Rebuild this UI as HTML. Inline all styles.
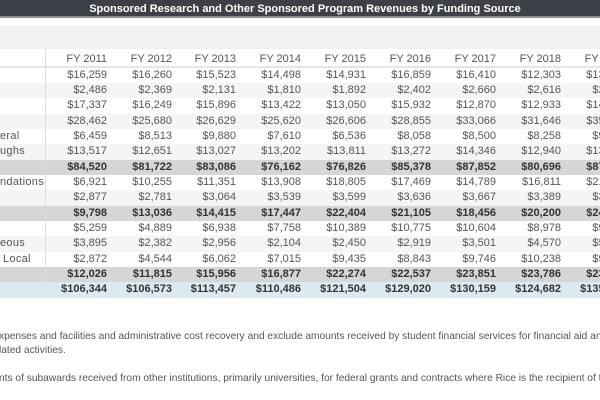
<!DOCTYPE html>
<html><head><style>
html,body{margin:0;width:600px;height:400px;overflow:hidden}
body{background:#fff;font-family:"Liberation Sans",sans-serif;position:relative}
.t{position:absolute;left:0;top:0;width:600px;height:18px;background:#3d4047;border-bottom:2px solid #8a8d92;color:#fff;font-weight:bold;font-size:11px;text-align:center;line-height:18px;padding-left:10px;box-sizing:border-box}
.band{position:absolute;left:0;top:26px;width:600px;height:23px;background:#f0f0f0}
#tb{position:absolute;left:0;top:0;width:600px;height:400px;overflow:hidden}
.r{position:absolute;left:0;width:600px;height:15.4px;overflow:hidden}
.c{position:absolute;font-size:11px;color:#555;line-height:15.4px;text-align:right;width:70px;white-space:nowrap}
.b .c{font-weight:bold;color:#333}
.l{position:absolute;font-size:11px;color:#555;line-height:15.4px;white-space:nowrap}
.vl{position:absolute;left:45px;top:49px;width:1px;height:248px;background:#ddd}
.nw{position:absolute;left:0;top:0;width:600px;height:400px;overflow:hidden}
.n{position:absolute;left:0;font-size:10.2px;color:#555;white-space:nowrap}
</style></head><body>
<div class="t">Sponsored Research and Other Sponsored Program Revenues by Funding Source</div>
<div class="band"></div>
<div id="tb"></div>
<div class="vl"></div>
<div class="nw">
<div class="n" style="top:331px;left:-1px">xpenses and facilities and administrative cost recovery and exclude amounts received by student financial services for financial aid and amounts</div>
<div class="n" style="top:345px;left:-1px">lated activities.</div>
<div class="n" style="top:373px;left:-1px">nts of subawards received from other institutions, primarily universities, for federal grants and contracts where Rice is the recipient of the prime award</div>
</div>
<script>
var rights=[107,172,236,301,366,431,496,561,626];
var hdr=["FY 2011","FY 2012","FY 2013","FY 2014","FY 2015","FY 2016","FY 2017","FY 2018","FY 2019"];
var rows=[
["","",["$16,259","$16,260","$15,523","$14,498","$14,931","$16,859","$16,410","$12,303","$13,000"]],
["a","",["$2,486","$2,369","$2,131","$1,810","$1,892","$2,402","$2,660","$2,616","$2,000"]],
["","",["$17,337","$16,249","$15,896","$13,422","$13,050","$15,932","$12,870","$12,933","$14,000"]],
["a","",["$28,462","$25,680","$26,629","$25,620","$26,606","$28,855","$33,066","$31,646","$35,000"]],
["","eral",["$6,459","$8,513","$9,880","$7,610","$6,536","$8,058","$8,500","$8,258","$9,000"]],
["a","ughs",["$13,517","$12,651","$13,027","$13,202","$13,811","$13,272","$14,346","$12,940","$13,000"]],
["b","",["$84,520","$81,722","$83,086","$76,162","$76,826","$85,378","$87,852","$80,696","$87,000"]],
["","ndations",["$6,921","$10,255","$11,351","$13,908","$18,805","$17,469","$14,789","$16,811","$21,000"]],
["a","",["$2,877","$2,781","$3,064","$3,539","$3,599","$3,636","$3,667","$3,389","$3,000"]],
["b","",["$9,798","$13,036","$14,415","$17,447","$22,404","$21,105","$18,456","$20,200","$24,000"]],
["","",["$5,259","$4,889","$6,938","$7,758","$10,389","$10,775","$10,604","$8,978","$9,000"]],
["a","eous",["$3,895","$2,382","$2,956","$2,104","$2,450","$2,919","$3,501","$4,570","$5,000"]],
["","Local",["$2,872","$4,544","$6,062","$7,015","$9,435","$8,843","$9,746","$10,238","$9,000"]],
["b","",["$12,026","$11,815","$15,956","$16,877","$22,274","$22,537","$23,851","$23,786","$23,000"]],
["t","",["$106,344","$106,573","$113,457","$110,486","$121,504","$129,020","$130,159","$124,682","$135,000"]]
];
var h='<div class="r" style="top:52px;height:14px;border-bottom:2px solid #e6e6e6">';
hdr.forEach(function(x,i){h+='<div class="c" style="left:'+(rights[i]-70)+'px;line-height:14px">'+x+'</div>'});
h+='</div>';
rows.forEach(function(r,k){
 var top=67.5+k*15.35;
 var bg=r[0]=="a"?"#f5f5f5":r[0]=="b"?"#d6d6d6":r[0]=="t"?"#dde9f0":"#fff";
 h+='<div class="r'+((r[0]=="b"||r[0]=="t")?' b':'')+'" style="top:'+top+'px;background:'+bg+'">';
 if(r[1])h+='<div class="l" style="left:'+(r[1]=="Local"?3:0)+'px;letter-spacing:0.3px">'+r[1]+'</div>';
 r[2].forEach(function(x,i){h+='<div class="c" style="left:'+(rights[i]-70)+'px">'+x+'</div>'});
 h+='</div>';
});
document.getElementById('tb').innerHTML=h;
</script>
</body></html>
